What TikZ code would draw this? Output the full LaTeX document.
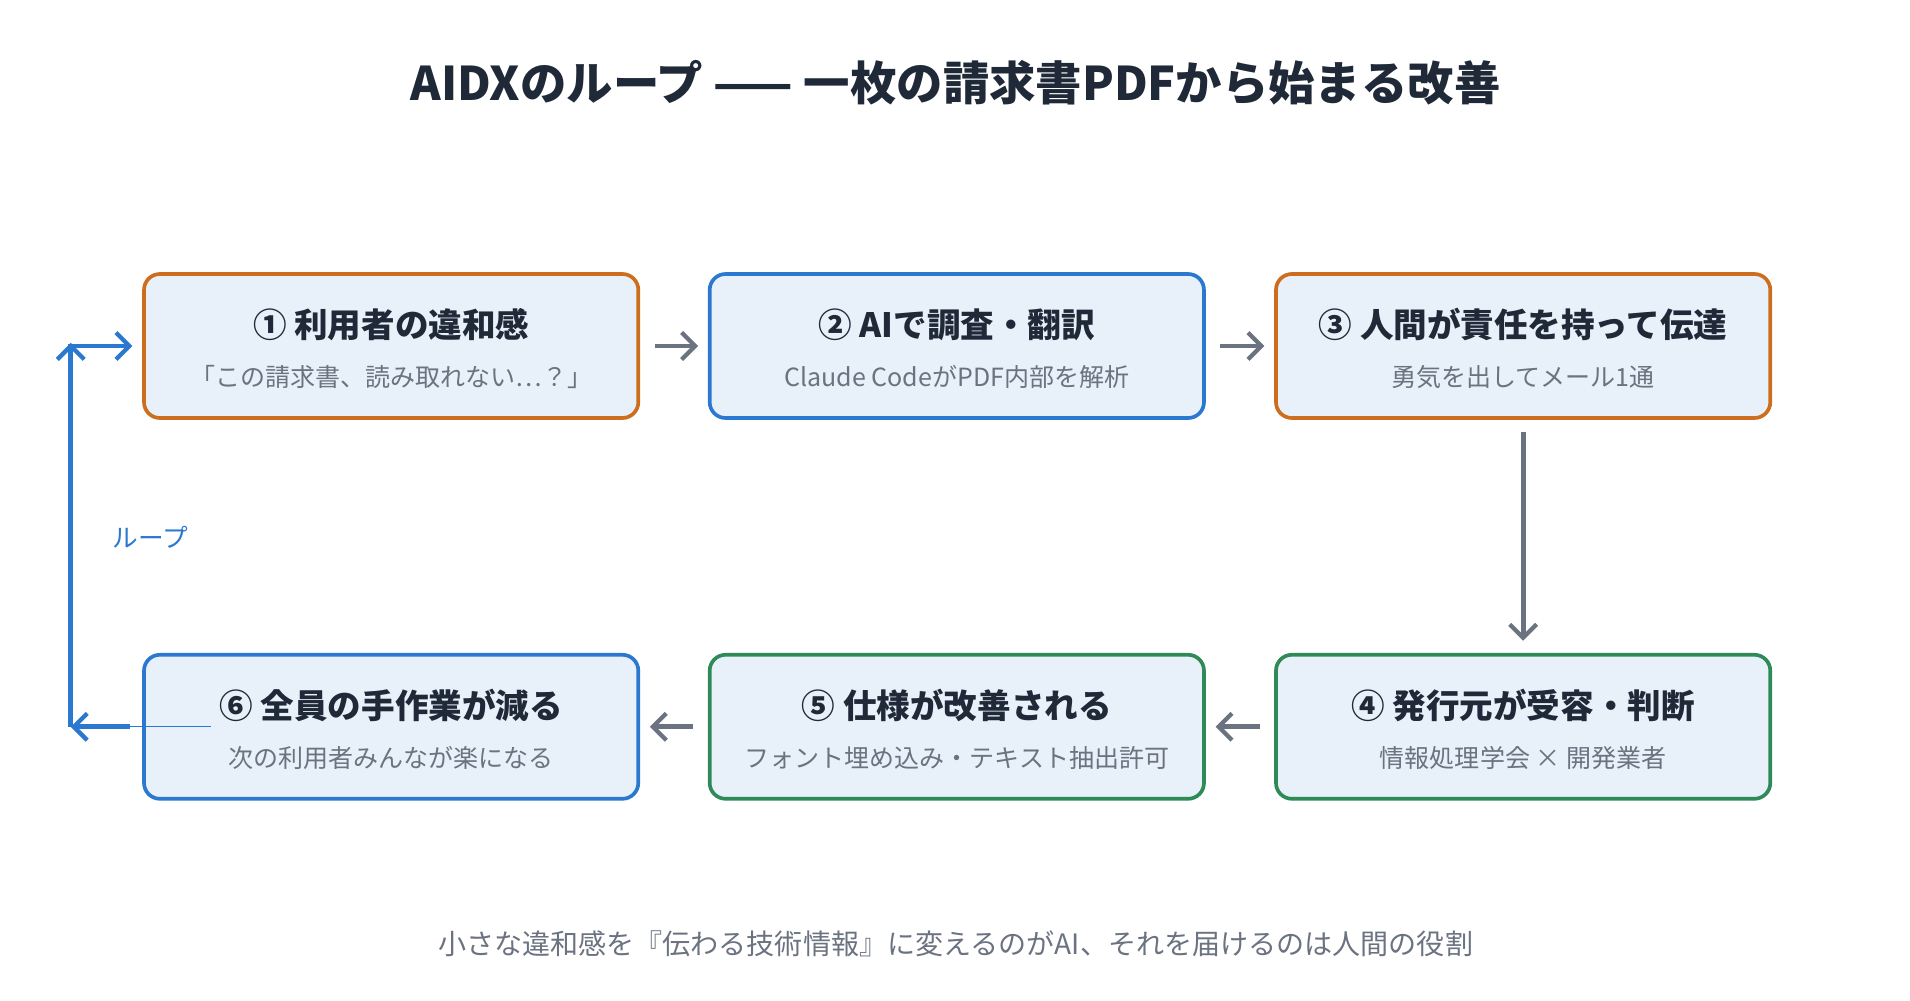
\documentclass[tikz,border=0pt]{standalone}
\usepackage{fontspec}
\setmainfont{Noto Sans CJK JP}
\usetikzlibrary{arrows.meta}
\definecolor{ink}{HTML}{1F2937}
\definecolor{sub}{HTML}{6B7280}
\definecolor{org}{HTML}{CC6E1E}
\definecolor{blu}{HTML}{2A78D0}
\definecolor{grn}{HTML}{2E8B57}
\definecolor{bg}{HTML}{E8F0F9}
\begin{document}
\begin{tikzpicture}[x=1pt,y=-1pt,
  box/.style={draw=#1,line width=3pt,fill=bg,rounded corners=13pt,minimum width=405pt,minimum height=118pt,inner sep=0pt},
  ttl/.style={font=\fontsize{27.5}{30}\selectfont\bfseries,text=ink},
  st/.style={font=\fontsize{20.5}{24}\selectfont,text=sub},
  arr/.style={draw=sub,line width=4pt,-{Straight Barb[length=11pt,width=22pt,line width=3.5pt]}},
  larr/.style={draw=blu,line width=4pt,-{Straight Barb[length=11pt,width=22pt,line width=3.5pt]}}]
\useasboundingbox (0,0) rectangle (1565,820);
\node[font=\fontsize{38}{42}\selectfont\bfseries,text=ink] (title) at (783,68) {AIDXのループ —— 一枚の請求書PDFから始まる改善};
\node[box=org] (b1) at (320.5,283.5) {};
\node[box=blu] (b2) at (784,283.5) {};
\node[box=org] (b3) at (1248,283.5) {};
\node[box=grn] (b4) at (1248,595.5) {};
\node[box=grn] (b5) at (784,595.5) {};
\node[box=blu] (b6) at (320.5,595.5) {};
\node[ttl] (t1) at (320.5,266) {① 利用者の違和感};
\node[st] (s1) at (320.5,309) {「この請求書、読み取れない…？」};
\node[ttl] (t2) at (784,266) {② AIで調査・翻訳};
\node[st] (s2) at (784,309) {Claude CodeがPDF内部を解析};
\node[ttl] (t3) at (1248,266) {③ 人間が責任を持って伝達};
\node[st] (s3) at (1248,309) {勇気を出してメール1通};
\node[ttl] (t4) at (1248,578) {④ 発行元が受容・判断};
\node[st] (s4) at (1248,621) {情報処理学会 × 開発業者};
\node[ttl] (t5) at (784,578) {⑤ 仕様が改善される};
\node[st] (s5) at (784,621) {フォント埋め込み・テキスト抽出許可};
\node[ttl] (t6) at (320.5,578) {⑥ 全員の手作業が減る};
\node[st] (s6) at (320.5,621) {次の利用者みんなが楽になる};
\draw[arr] ([xshift=12pt]b1.east) -- ([xshift=-8pt]b2.west);
\draw[arr] ([xshift=12pt]b2.east) -- ([xshift=-8pt]b3.west);
\draw[arr] ([yshift=-10pt]b3.south) -- ([yshift=10pt]b4.north);
\draw[arr] ([xshift=-12pt]b4.west) -- ([xshift=8pt]b5.east);
\draw[arr] ([xshift=-12pt]b5.west) -- ([xshift=8pt]b6.east);
\coordinate (c6) at ([xshift=-10pt]b6.west);
\coordinate (c1) at ([xshift=-8pt]b1.west);
\coordinate (lc) at (58,595.5);
\draw[blu,line width=0.8pt] (c6) -- ++(66,0);
\draw[larr] (c6) -- (lc);
\draw[larr] (lc) -- (58,281);
\draw[larr] (56,283.5) -- (c1);
\node[font=\fontsize{21}{24}\selectfont,text=blu] (loop) at (123,440) {ループ};
\node[font=\fontsize{23}{26}\selectfont,text=sub] (foot) at (783,773) {小さな違和感を『伝わる技術情報』に変えるのがAI、それを届けるのは人間の役割};
\end{tikzpicture}
\end{document}
